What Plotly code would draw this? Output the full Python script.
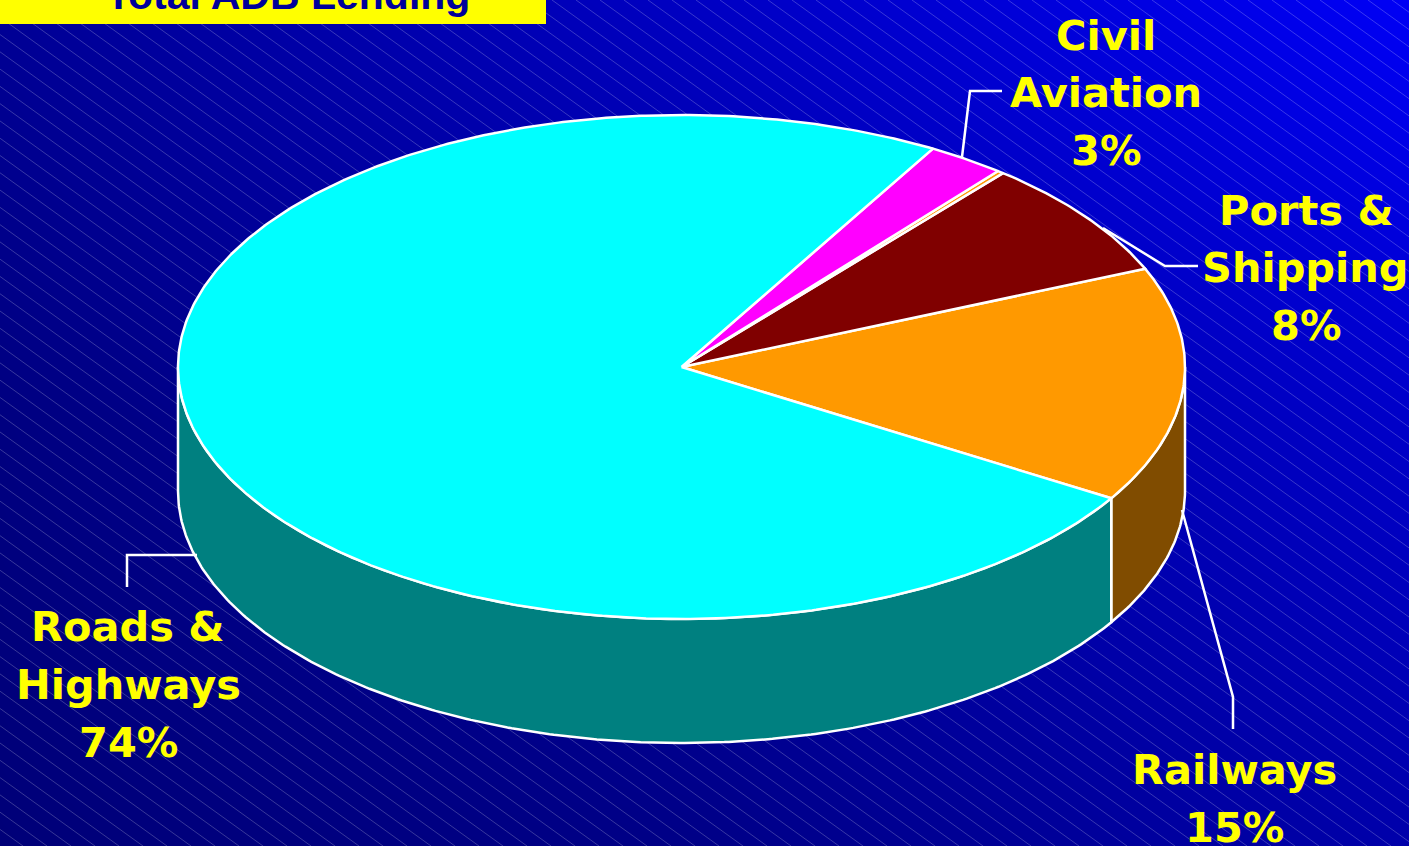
import numpy as np
import plotly.graph_objects as go

categories = ['Railways', 'Ports & Shipping', 'Other', 'Civil Aviation', 'Roads & Highways']
values = [15.1, 7.6, 0.2, 2.5, 74.6]
top_colors = ['#ff9900', '#800000', '#ff9900', '#ff00ff', '#00ffff']
side_colors = ['#804c00', '#400000', '#804c00', '#800080', '#008080']
start_angle = 31.4

label_lines = ['Civil', 'Aviation', '3%', 'Ports &', 'Shipping', '8%', 'Railways', '15%', 'Roads &', 'Highways', '74%']
label_x = [1106, 1106, 1106, 1306, 1305, 1306, 1234, 1234, 128, 128, 128]
label_y = [35, 92, 150, 210, 267, 325, 769, 827, 626, 684, 742]
leaders = [
    ([1002, 970, 962], [91, 91, 157]),
    ([1198, 1165, 1103], [266, 266, 228]),
    ([1182, 1233, 1233], [510, 697, 729]),
    ([127, 127, 197], [587, 555, 555]),
]
title = 'Total ADB Lending'

W, H = 1409, 846
cx, cy, rx, ry, depth = 681.5, 367, 503.5, 252, 124


def arc(t0, t1, dy=0):
    t = np.radians(np.linspace(t0, t1, max(2, int(abs(t1 - t0) * 2))))
    return cx + rx * np.cos(t), cy + dy + ry * np.sin(t)


fig = go.Figure()

# background: diagonal blue gradient
blues = [[150, 195, 245], [128, 160, 200], [120, 135, 170]]
fig.add_trace(go.Heatmap(x=[0, W / 2, W], y=[0, H / 2, H], z=blues, zmin=0, zmax=255, zsmooth='best',
                         colorscale=[[0, '#000000'], [1, '#0000ff']], showscale=False, hoverinfo='skip'))

# thin diagonal hatching
slope = 0.72
hx, hy = [], []
for x0 in np.arange(-1200, W, 24):
    hx += [x0, x0 + H / slope, None]
    hy += [0, H, None]
fig.add_trace(go.Scatter(x=hx, y=hy, mode='lines', line=dict(color='rgba(255,255,255,0.22)', width=1),
                         hoverinfo='skip'))

# slice angles, y grows downward so negative is towards the back
spans = np.array(values) / sum(values) * 360
ends = start_angle - np.cumsum(spans)
starts = ends + spans

# side walls, only the parts of each slice on the front half
for t0, t1, color in zip(ends, starts, side_colors):
    for shift in (0, 360):
        a, b = max(t0 + shift, 0), min(t1 + shift, 180)
        if a < b:
            xa, ya = arc(a, b)
            xb, yb = arc(b, a, depth)
            fig.add_trace(go.Scatter(x=np.r_[xa, xb, xa[0]], y=np.r_[ya, yb, ya[0]], mode='lines', fill='toself',
                                     fillcolor=color, line=dict(color='white', width=2.5), hoverinfo='skip'))

# top face
for t0, t1, color, name in zip(starts, ends, top_colors, categories):
    xa, ya = arc(t0, t1)
    fig.add_trace(go.Scatter(x=np.r_[cx, xa, cx], y=np.r_[cy, ya, cy], mode='lines', fill='toself',
                             fillcolor=color, line=dict(color='white', width=2.5), name=name, hoverinfo='skip'))

for lx, ly in leaders:
    fig.add_trace(go.Scatter(x=lx, y=ly, mode='lines', line=dict(color='white', width=2.5), hoverinfo='skip'))

for text, x, y in zip(label_lines, label_x, label_y):
    fig.add_annotation(x=x, y=y, text=text, showarrow=False, xanchor='center', yanchor='middle',
                       font=dict(family='DejaVu Sans', size=41.5, color='#ffff00', weight='bold'))

fig.add_shape(type='rect', x0=0, x1=546, y0=0, y1=24, fillcolor='#ffff00', line_width=0, layer='above')
fig.add_annotation(x=288, y=20, text=title, showarrow=False, xanchor='center', yanchor='bottom',
                   font=dict(family='Liberation Sans', size=41, color='#00009a', weight='bold'))

fig.update_xaxes(range=[0, W], visible=False, fixedrange=True)
fig.update_yaxes(range=[H, 0], visible=False, fixedrange=True)
fig.update_layout(width=W, height=H, margin=dict(l=0, r=0, t=0, b=0), showlegend=False,
                  paper_bgcolor='#000090', plot_bgcolor='#000090')

fig.write_html("out.html", config=dict(displayModeBar=False),
               post_script="document.body.style.margin='0';document.body.style.overflow='hidden';")
